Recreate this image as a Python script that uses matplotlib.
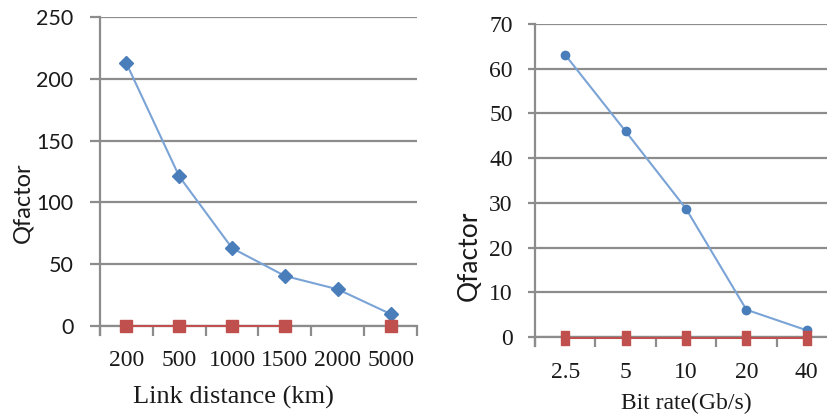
import numpy as np
import matplotlib
matplotlib.use('Agg')
import matplotlib.pyplot as plt

# Left chart: Q factor vs link distance
dist_labels = ['200', '500', '1000', '1500', '2000', '5000']
q_dist = [212.5, 121, 63, 40.5, 29.7, 9.7]
q_dist_ref = [0, 0, 0, 0, np.nan, 0]

# Right chart: Q factor vs bit rate
rate_labels = ['2.5', '5', '10', '20', '40']
q_rate = [63.1, 46.0, 28.7, 6.1, 1.5]
q_rate_ref = [-0.3, -0.3, -0.3, -0.3, -0.3]

blue = '#4a7ebb'
blue_line = '#7aa3d6'
red = '#c0504d'
grid_c = '#8c8c8c'
txt = '#1a1a1a'
sans = ['Lato', 'DejaVu Sans']
serif = ['Liberation Serif', 'DejaVu Serif']

fig = plt.figure(figsize=(8.28, 4.17), dpi=100)
W, H = 828, 417


def px_axes(left, right, top, bottom):
    return fig.add_axes([left / W, 1 - bottom / H, (right - left) / W, (bottom - top) / H])


def style(ax, n, ymax, ystep, ytick_size, ytick_font, ylen, ypad):
    ax.set_xlim(0, n)
    ax.set_ylim(0, ymax)
    for s in ['top', 'right', 'bottom']:
        ax.spines[s].set_visible(False)
    ax.spines['left'].set_color(grid_c)
    ax.spines['left'].set_linewidth(1.6)
    ax.spines['left'].set_bounds(-ymax * 0.03, ymax)
    ax.set_yticks(np.arange(0, ymax + 1, ystep))
    ax.yaxis.grid(True, color=grid_c, linewidth=1.6)
    ax.set_axisbelow(True)
    ax.tick_params(axis='y', length=ylen, width=1.6, color=grid_c, pad=ypad,
                   labelsize=ytick_size, labelcolor=txt)
    for lab in ax.get_yticklabels():
        lab.set_family(ytick_font)
    # category tick marks at boundaries, labels at centers
    ax.set_xticks(np.arange(0, n + 1))
    ax.set_xticklabels([])
    ax.tick_params(axis='x', which='major', length=7, width=1.6, color=grid_c)
    ax.set_xticks(np.arange(n) + 0.5, minor=True)
    ax.tick_params(axis='x', which='minor', length=0)
    ax.axhline(0, color=grid_c, linewidth=1.6, zorder=1, clip_on=False)


# ---- left panel
ax1 = px_axes(100, 417, 17, 326)
style(ax1, 6, 250, 50, 15.5, sans, 7, 12)
x1 = np.arange(6) + 0.5
ax1.plot(x1, q_dist, color=blue_line, linewidth=1.5, marker='D', markersize=7,
         markerfacecolor=blue, markeredgecolor=blue, zorder=3)
ax1.plot(x1, q_dist_ref, color=red, linewidth=1.5, marker='s', markersize=9,
         markerfacecolor=red, markeredgecolor=red, zorder=3, clip_on=False)
ax1.set_xticklabels(dist_labels, minor=True, fontfamily=serif, fontsize=17, color=txt)
ax1.tick_params(axis='x', which='minor', pad=17)
ax1.set_ylabel('Qfactor', fontfamily=sans, fontsize=17, color=txt)
ax1.yaxis.set_label_coords(-0.21, 0.4)
ax1.set_xlabel('Link distance (km)', fontfamily=serif, fontsize=19, color=txt)
ax1.xaxis.set_label_coords(0.42, -0.195)

# ---- right panel (axes runs past the figure edge)
ax2 = px_axes(535, 837, 24, 337)
style(ax2, 5, 70, 10, 17, serif, 5, 11)
x2 = np.arange(5) + 0.5
tall_sq = [(-0.33, -0.5), (0.33, -0.5), (0.33, 0.5), (-0.33, 0.5), (-0.33, -0.5)]
ax2.plot(x2, q_rate, color=blue_line, linewidth=1.5, marker='o', markersize=6,
         markerfacecolor=blue, markeredgecolor=blue, zorder=3)
ax2.plot(x2, q_rate_ref, color=red, linewidth=1.5, marker=tall_sq, markersize=9.5,
         markerfacecolor=red, markeredgecolor=red, zorder=3, clip_on=False)
ax2.set_xticklabels(rate_labels, minor=True, fontfamily=serif, fontsize=17, color=txt)
ax2.tick_params(axis='x', which='minor', pad=18)
ax2.set_ylabel('Qfactor', fontfamily=sans, fontsize=19, color=txt)
ax2.yaxis.set_label_coords(-0.175, 0.26)
ax2.set_xlabel('Bit rate(Gb/s)', fontfamily=serif, fontsize=17, color=txt)
ax2.xaxis.set_label_coords(0.5, -0.18)

fig.savefig('out.png', dpi=100)
